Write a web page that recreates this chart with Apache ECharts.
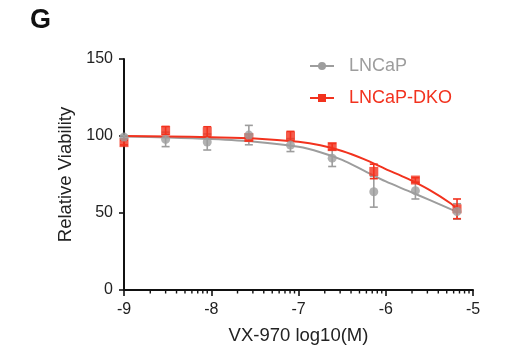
<!DOCTYPE html>
<html><head><meta charset="utf-8">
<script src="https://cdn.jsdelivr.net/npm/echarts@6/dist/echarts.min.js"></script>
<style>html,body{margin:0;padding:0;background:#fff}#c{width:511px;height:350px}</style>
</head><body><div id="c"></div>
<script>
// dose positions (log10 M)
var doses = [-9, -8.523, -8.046, -7.569, -7.092, -6.614, -6.137, -5.660, -5.183];
var lncapMean = [99.3, 97.8, 96.1, 100.6, 94.1, 85.6, 63.8, 64.5, 51.0];
var lncapErr  = [1.0, 4.7, 5.2, 6.3, 4.2, 5.4, 10.0, 5.4, 5.0];
var dkoMean = [95.7, 103.6, 102.8, 99.0, 100.0, 93.1, 77.0, 71.4, 52.7];
var dkoErr  = [1.5, 2.6, 3.2, 2.0, 3.0, 2.0, 4.7, 1.5, 6.4];
// fitted curves
var curveX = [-9, -8.5, -8, -7.5, -7, -6.75, -6.5, -6.25, -6, -5.75, -5.5, -5.25, -5.183];
var lncapCurve = [99.6, 99.0, 98.0, 96.3, 93.0, 89.5, 84.5, 77.5, 70.5, 64.5, 58.5, 52.3, 50.5];
var dkoCurve   = [100, 99.7, 99.2, 98.4, 96.2, 94.0, 90.3, 85.0, 78.5, 72.3, 65.0, 56.0, 52.5];
var xTicks = [-9, -8, -7, -6, -5];
var yTicks = [0, 50, 100, 150];

var GRAY = '#9d9d9d', RED = '#f2321e';
var FONT = 'Liberation Sans, Arial, sans-serif';

var minorX = [];
for (var d = -9; d < -5; d++) { for (var k = 2; k <= 9; k++) minorX.push(d + Math.log10(k)); }

function pairs(xs, ys) { return xs.map(function (x, i) { return [x, ys[i]]; }); }
function errData(m, e) { return doses.map(function (x, i) { return [x, m[i] - e[i], m[i] + e[i]]; }); }
function errRender(color) {
  return function (params, api) {
    var lo = api.coord([api.value(0), api.value(1)]);
    var hi = api.coord([api.value(0), api.value(2)]);
    var w = 4;
    var st = { stroke: color, lineWidth: 1.6 };
    return { type: 'group', children: [
      { type: 'line', shape: { x1: lo[0], y1: lo[1], x2: hi[0], y2: hi[1] }, style: st },
      { type: 'line', shape: { x1: lo[0] - w, y1: lo[1], x2: lo[0] + w, y2: lo[1] }, style: st },
      { type: 'line', shape: { x1: hi[0] - w, y1: hi[1], x2: hi[0] + w, y2: hi[1] }, style: st }
    ]};
  };
}

var chart = echarts.init(document.getElementById('c'), null, { renderer: 'canvas' });
chart.setOption({
  animation: false,
  title: { text: 'G', left: 25, top: 2, textStyle: { fontFamily: FONT, fontSize: 27, fontWeight: 'bold', color: '#111' } },
  legend: {
    orient: 'vertical', left: 304, top: 52, itemWidth: 24, itemHeight: 10, itemGap: 14,
    data: [
      { name: 'LNCaP', textStyle: { color: GRAY } },
      { name: 'LNCaP-DKO', textStyle: { color: RED } }
    ],
    textStyle: { fontFamily: FONT, fontSize: 18, padding: [0, 0, 0, 10] }
  },
  grid: { left: 124, right: 38, top: 59, bottom: 58, containLabel: false },
  xAxis: {
    type: 'value', min: -9, max: -5, interval: 1,
    name: 'VX-970 log10(M)', nameLocation: 'middle', nameGap: 36,
    nameTextStyle: { fontFamily: FONT, fontSize: 18.5, color: '#222' },
    axisLine: { onZero: false, lineStyle: { color: '#111', width: 2 } },
    axisTick: { length: 6, lineStyle: { color: '#111', width: 1.6 } },
    axisLabel: { fontFamily: FONT, fontSize: 16, color: '#222', margin: 12 },
    splitLine: { show: false }
  },
  yAxis: {
    type: 'value', min: 0, max: 150, interval: 50,
    name: 'Relative Viability', nameLocation: 'middle', nameGap: 47,
    nameTextStyle: { fontFamily: FONT, fontSize: 18.5, color: '#222' },
    axisLine: { show: true, onZero: false, lineStyle: { color: '#111', width: 2 } },
    axisTick: { show: true, length: 5, lineStyle: { color: '#111', width: 1.6 } },
    axisLabel: { fontFamily: FONT, fontSize: 16, color: '#222', margin: 11 },
    splitLine: { show: false }
  },
  series: [
    { type: 'custom', name: 'minor', silent: true, clip: false, data: minorX.map(function (x) { return [x]; }),
      renderItem: function (params, api) {
        var p = api.coord([api.value(0), 0]);
        return { type: 'line', shape: { x1: p[0], y1: p[1], x2: p[0], y2: p[1] + 3.5 }, style: { stroke: '#111', lineWidth: 1.4 } };
      }, z: 1 },
    { type: 'line', name: 'LNCaP', data: pairs(curveX, lncapCurve), smooth: 0.3, symbol: 'circle', symbolSize: 8, showSymbol: false,
      itemStyle: { color: GRAY }, lineStyle: { color: GRAY, width: 2 }, z: 2 },
    { type: 'line', name: 'LNCaP-DKO', data: pairs(curveX, dkoCurve), smooth: 0.3, symbol: 'rect', symbolSize: 8, showSymbol: false,
      itemStyle: { color: RED }, lineStyle: { color: RED, width: 2 }, z: 3 },
    { type: 'custom', name: 'lncapErr', data: errData(lncapMean, lncapErr), renderItem: errRender(GRAY), clip: false, z: 4 },
    { type: 'custom', name: 'dkoErr', data: errData(dkoMean, dkoErr), renderItem: errRender(RED), clip: false, z: 5 },
    { type: 'scatter', name: 'dkoPts', data: pairs(doses, dkoMean), symbol: 'rect', symbolSize: 9, itemStyle: { color: RED }, z: 6 },
    { type: 'scatter', name: 'lncapPts', data: pairs(doses, lncapMean), symbol: 'circle', symbolSize: 9, itemStyle: { color: GRAY }, z: 7 }
  ]
});
</script></body></html>
